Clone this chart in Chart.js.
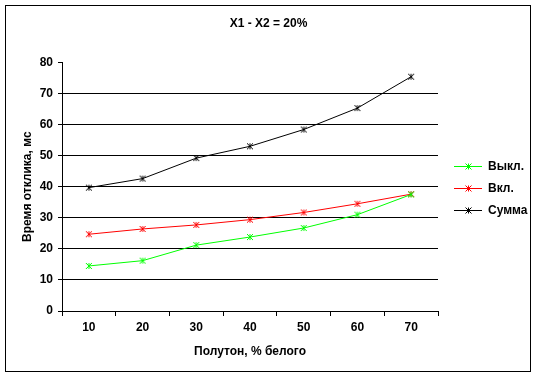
<!DOCTYPE html>
<html><head><meta charset="utf-8">
<script src="https://cdn.jsdelivr.net/npm/chart.js@4/dist/chart.umd.min.js"></script>
<style>html,body{margin:0;padding:0;background:#fff}#wrap{width:537px;height:378px}</style>
</head><body><div id="wrap"><canvas id="c" width="537" height="378"></canvas></div>
<script>
const categories = ['10','20','30','40','50','60','70'];
const seriesNames = ['Выкл.','Вкл.','Сумма'];
const offValues = [14.5, 16.2, 21.2, 23.8, 26.7, 31.0, 37.5];
const onValues  = [24.7, 26.4, 27.7, 29.4, 31.7, 34.5, 37.6];
const sumValues = [39.7, 42.6, 49.2, 53.0, 58.4, 65.3, 75.4];
const seriesColors = ['#00ff00','#ff0000','#000000'];
const chartTitle = 'X1 - X2 = 20%';
const xTitle = 'Полутон, % белого';
const yTitle = 'Время отклика, мс';

const FONT = '"Liberation Sans", Arial, sans-serif';

function drawMarker(g, cx, cy, r){
  g.beginPath();
  g.moveTo(cx - r, cy - r); g.lineTo(cx + r, cy + r);
  g.moveTo(cx - r, cy + r); g.lineTo(cx + r, cy - r);
  g.moveTo(cx, cy - r); g.lineTo(cx, cy + r);
  g.stroke();
}
function markerImage(color){
  const cv = document.createElement('canvas');
  cv.width = 8; cv.height = 8;
  const g = cv.getContext('2d');
  g.strokeStyle = color; g.lineWidth = 1;
  drawMarker(g, 4, 4, 3);
  return cv;
}
function legendImage(color){
  const cv = document.createElement('canvas');
  cv.width = 34; cv.height = 9;
  const g = cv.getContext('2d');
  g.strokeStyle = color; g.lineWidth = 1;
  g.beginPath(); g.moveTo(6, 4.5); g.lineTo(34, 4.5); g.stroke();
  drawMarker(g, 20.5, 4.5, 3);
  return cv;
}

const borderPlugin = {
  id: 'outerBorder',
  afterDraw(chart){
    const ctx = chart.ctx;
    ctx.save();
    ctx.strokeStyle = '#000'; ctx.lineWidth = 1;
    ctx.strokeRect(5.5, 5.5, 525, 366);
    ctx.restore();
  }
};

const values = [offValues, onValues, sumValues];
new Chart(document.getElementById('c'), {
  type: 'line',
  data: {
    labels: categories,
    datasets: seriesNames.map((n, i) => ({
      label: n,
      data: values[i],
      borderColor: seriesColors[i],
      backgroundColor: seriesColors[i],
      borderWidth: 1,
      pointStyle: markerImage(seriesColors[i]),
      pointRadius: 4,
      tension: 0,
      fill: false
    }))
  },
  options: {
    responsive: false,
    animation: false,
    devicePixelRatio: 1,
    layout: { padding: { left: 5, right: 5, top: 5, bottom: 6 } },
    plugins: {
      title: {
        display: true, text: chartTitle, color: '#000',
        font: { family: FONT, size: 12, weight: 'bold' },
        padding: { top: 11, bottom: 32 }
      },
      legend: {
        position: 'right',
        maxWidth: 94,
        labels: {
          usePointStyle: true,
          pointStyleWidth: 34,
          padding: 10,
          color: '#000',
          font: { family: FONT, size: 12, weight: 'bold' },
          generateLabels(chart){
            return chart.data.datasets.map((ds, i) => ({
              text: ds.label,
              pointStyle: legendImage(ds.borderColor),
              fillStyle: ds.borderColor,
              strokeStyle: ds.borderColor,
              lineWidth: 0,
              hidden: false,
              datasetIndex: i,
              fontColor: '#000'
            }));
          }
        }
      },
      tooltip: { enabled: false }
    },
    scales: {
      x: {
        offset: true,
        grid: { display: true, drawOnChartArea: false, drawTicks: true, tickLength: 5, offset: true, color: '#000', lineWidth: 1 },
        border: { display: true, color: '#000', width: 1 },
        ticks: { color: '#000', padding: 4, maxRotation: 0, font: { family: FONT, size: 12, weight: 'bold' } },
        title: { display: true, text: xTitle, color: '#000', font: { family: FONT, size: 12, weight: 'bold' }, padding: { top: 4, bottom: 13 } },
        afterFit(scale){ scale.height = 61; }
      },
      y: {
        min: 0, max: 80,
        grid: {
          display: true, drawOnChartArea: true, drawTicks: true, tickLength: 4,
          color: (ctx) => (ctx.tick && ctx.tick.value === 80) ? 'rgba(0,0,0,0)' : '#000',
          tickColor: '#000', lineWidth: 1
        },
        border: { display: true, color: '#000', width: 1 },
        ticks: { stepSize: 10, color: '#000', padding: 5, font: { family: FONT, size: 12, weight: 'bold' } },
        title: { display: true, text: yTitle, color: '#000', font: { family: FONT, size: 12, weight: 'bold' }, padding: { top: 15, bottom: 0 } },
        afterFit(scale){ scale.width = 57; }
      }
    }
  },
  plugins: [borderPlugin]
});
</script>
</body></html>
